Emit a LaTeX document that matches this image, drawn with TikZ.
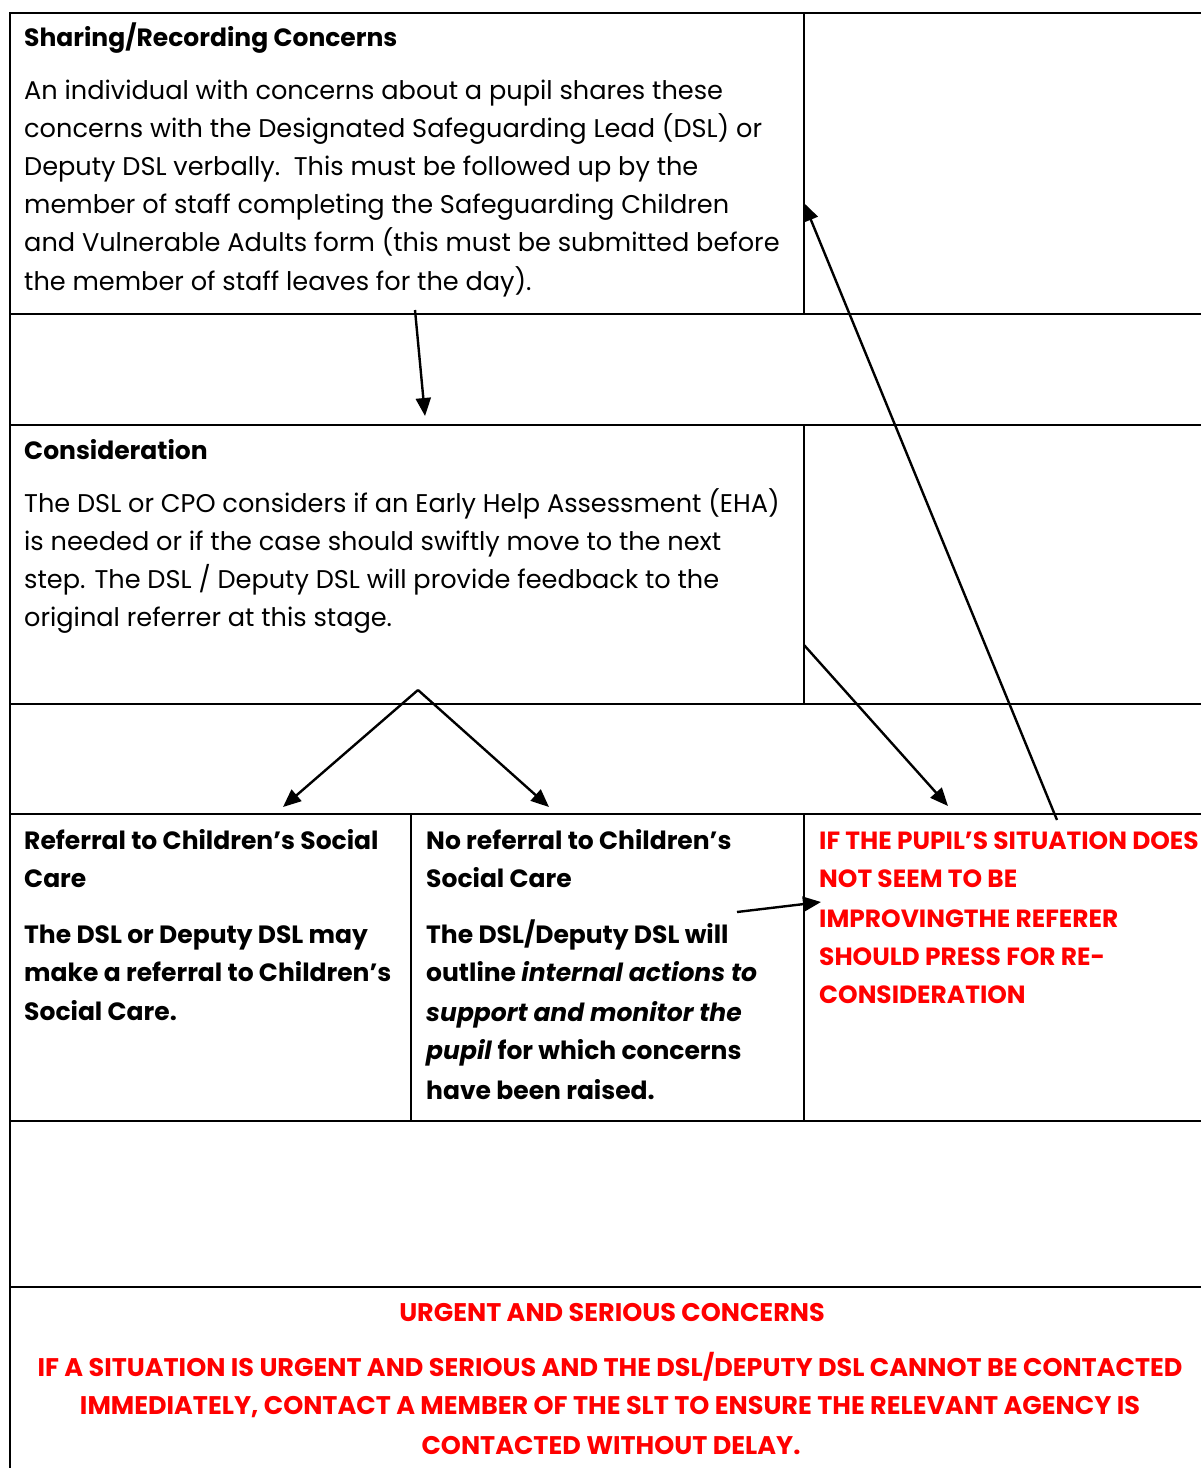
\documentclass[tikz,border=0pt]{standalone}
\usepackage{fontspec}
\setmainfont{Poppins}
\usetikzlibrary{arrows.meta}
\definecolor{alertred}{RGB}{255,0,0}
\begin{document}
\begin{tikzpicture}[x=1pt,y=-1pt,
  gridline/.style={line width=2pt},
  conn/.style={line width=2.4pt,-{Triangle[length=18pt,width=15pt]}},
  txt/.style={inner sep=0pt,anchor=base west,font=\fontsize{25.6}{29}\selectfont},
  btxt/.style={txt,font=\fontsize{25}{29}\selectfont\bfseries},
  rtxt/.style={btxt,text=alertred,font=\fontsize{24.9}{29}\selectfont\bfseries},
  ctxt/.style={rtxt,anchor=base,font=\fontsize{25.5}{29}\selectfont\bfseries}]
\useasboundingbox (0,0) rectangle (1201,1468);
% grid
\draw[gridline] (10,1468) -- (10,13) -- (1201,13);
\foreach \yy in {314,425,704,814,1121,1287} \draw[gridline] (10,\yy) -- (1201,\yy);
\draw[gridline] (804,13) -- (804,314);
\draw[gridline] (804,425) -- (804,704);
\draw[gridline] (804,814) -- (804,1121);
\draw[gridline] (411,814) -- (411,1121);
% texts: sharing
\node[btxt] (h1) at (24,46) {Sharing/Recording Concerns};
\foreach \t [count=\i] in {An individual with concerns about a pupil shares these,
  concerns with the Designated Safeguarding Lead (DSL) or,
  Deputy DSL verbally.\ \ This must be followed up by the,
  member of staff completing the Safeguarding Children,
  and Vulnerable Adults form (this must be submitted before,
  the member of staff leaves for the day).}
  \node[txt] (p1l\i) at (24,{99+38.2*(\i-1)}) {\t};
% consideration
\node[btxt] (h2) at (24,459) {Consideration};
\foreach \t [count=\i] in {The DSL or CPO considers if an Early Help Assessment (EHA),
  is needed or if the case should swiftly move to the next,
  step. The DSL / Deputy DSL will provide feedback to the,
  original referrer at this stage.}
  \node[txt] (p2l\i) at (24,{512+38*(\i-1)}) {\t};
% left cell
\node[btxt] (h3a) at (24,849) {Referral to Children’s Social};
\node[btxt] (h3b) at (24,887) {Care};
\node[btxt] (l1) at (24,943) {The DSL or Deputy DSL may};
\node[btxt] (l2) at (24,981) {make a referral to Children’s};
\node[btxt] (l3) at (24,1020) {Social Care.};
% middle cell
\node[btxt] (h4a) at (426,849) {No referral to Children’s};
\node[btxt] (h4b) at (426,887) {Social Care};
\node[btxt] (m1) at (426,943) {The DSL/Deputy DSL will};
\node[btxt] (m2) at (426,981) {outline \textit{internal actions to}};
\node[btxt] (m3) at (426,1021) {\textit{support and monitor the}};
\node[btxt] (m4) at (426,1059) {\textit{pupil} for which concerns};
\node[btxt] (m5) at (426,1099) {have been raised.};
% right cell
\node[rtxt] (r1) at (819,849) {IF THE PUPIL’S SITUATION DOES};
\node[rtxt] (r2) at (819,887) {NOT SEEM TO BE};
\node[rtxt] (r3) at (819,927) {IMPROVINGTHE REFERER};
\node[rtxt] (r4) at (819,965) {SHOULD PRESS FOR RE-};
\node[rtxt] (r5) at (819,1003) {CONSIDERATION};
% bottom
\node[ctxt] (u0) at (612,1321) {URGENT AND SERIOUS CONCERNS};
\node[ctxt] (u1) at (610,1376) {IF A SITUATION IS URGENT AND SERIOUS AND THE DSL/DEPUTY DSL CANNOT BE CONTACTED};
\node[ctxt] (u2) at (610,1414) {IMMEDIATELY, CONTACT A MEMBER OF THE SLT TO ENSURE THE RELEVANT AGENCY IS};
\node[ctxt] (u3) at (611,1454) {CONTACTED WITHOUT DELAY.};
% connector coordinates
\coordinate (a1s) at (415,310);
\coordinate (a1e) at (425,416);
\coordinate (apex) at (418,690);
\coordinate (lt) at (283,807);
\coordinate (rt) at (549,807);
\coordinate (a3s) at (804,645);
\coordinate (a3e) at (948,806);
\coordinate (a4s) at (1057,820);
\coordinate (a4e) at (804,203);
\coordinate (a5s) at (737,912);
\coordinate (a5e) at (821,902);
\draw[conn] (a1s) -- (a1e);
\draw[conn] (apex) -- (lt);
\draw[conn] (apex) -- (rt);
\draw[conn] (a3s) -- (a3e);
\draw[conn] (a4s) -- (a4e);
\draw[conn] (a5s) -- (a5e);
\end{tikzpicture}
\end{document}
